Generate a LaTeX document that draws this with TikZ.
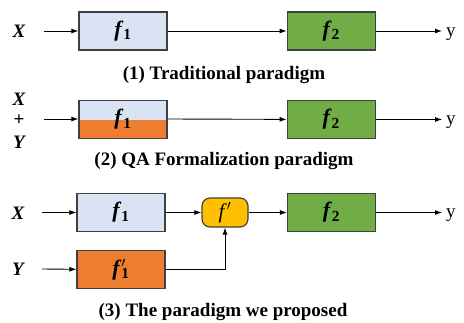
\documentclass[tikz,border=0pt]{standalone}
\usepackage{fontspec}
\setmainfont{Liberation Serif}
\usepackage{xcolor}
\usetikzlibrary{arrows.meta, positioning}

\definecolor{lavender}{RGB}{218,227,243}
\definecolor{leafgreen}{RGB}{112,173,71}
\definecolor{burntorange}{RGB}{237,125,49}
\definecolor{amber}{RGB}{255,192,0}
\definecolor{edgegray}{RGB}{64,64,64}

% f with a bold subscript, and f prime with one
\newcommand{\fsub}[1]{\textbf{\textit{f}}\textsubscript{\textbf{#1}}}
\newcommand{\fprimesub}[1]{\textbf{\textit{f}}\rlap{\textsuperscript{$\prime$}}\textsubscript{\textbf{#1}}}

\begin{document}
\begin{tikzpicture}[x=1pt, y=-1pt, >={Latex[length=7pt,width=5pt]}]
\tikzstyle{block} = [draw=edgegray, line width=1.2pt, rectangle, minimum height=38pt, minimum width=88pt, inner sep=0pt, font=\fontsize{22}{26}\selectfont]
\tikzstyle{mixed} = [block, fill=lavender, path picture={\fill[burntorange] (path picture bounding box.west) rectangle (path picture bounding box.south east);}]
\tikzstyle{merge} = [draw=edgegray, line width=1.2pt, fill=amber, rounded corners=8pt, minimum height=29pt, minimum width=46pt, inner sep=0pt, font=\fontsize{21}{24}\selectfont]
\tikzstyle{varname} = [anchor=base, inner sep=0pt, font=\fontsize{19}{22}\selectfont\bfseries\itshape]
\tikzstyle{outname} = [anchor=base west, inner sep=0pt, font=\fontsize{19}{22}\selectfont]
\tikzstyle{capt} = [anchor=base, inner sep=0pt, font=\fontsize{19}{22}\selectfont\bfseries]
\tikzstyle{input} = [coordinate]
\tikzstyle{output} = [coordinate]
\tikzstyle{wire} = [line width=0.9pt]

\useasboundingbox (0,0) rectangle (464,322);

% (1) traditional
\node [block, fill=lavender] (f1a) at (123,31) {\fsub{1}};
\node [block, fill=leafgreen, right=119pt of f1a] (f2a) {\fsub{2}};
\node [varname] (xa) at (19,37) {X};
\node [input] (ina) at (44,31) {};
\node [output] (outa) at (442,31) {};
\node [outname] (ya) at (446,36) {y};
\node [capt] (cap1) at (224,79) {(1) Traditional paradigm};

\draw [wire, ->] (ina) -- (f1a);
\draw [wire, ->] (f1a) -- (f2a);
\draw [wire, ->] (f2a) -- (outa);

% (2) QA formalization
\node [mixed] (f1b) at (123,119.5) {\fsub{1}};
\node [block, fill=leafgreen, right=119pt of f1b] (f2b) {\fsub{2}};
\node [varname] (xb) at (19,105) {X};
\node [varname, font=\fontsize{19}{22}\selectfont\bfseries] (plusb) at (19,125) {+};
\node [varname] (yb) at (19,148) {Y};
\node [input] (inb) at (44,119) {};
\node [output] (outb) at (442,119.5) {};
\node [outname] (yout2) at (446,124.5) {y};
\node [capt] (cap2) at (224,165) {(2) QA Formalization paradigm};

\draw [wire, ->] (inb) -- (f1b.west |- inb);
\draw [wire, ->] (f1b.east |- inb) -- (f2b);
\draw [wire, ->] (f2b) -- (outb);

% (3) proposed
\node [block, fill=lavender] (f1c) at (121,212.5) {\fsub{1}};
\node [block, fill=burntorange, below=18pt of f1c] (f1p) {\fprimesub{1}};
\node [merge] (fp) at (225,212.5) {\textit{f}\textsuperscript{$\prime$}};
\node [block, fill=leafgreen] (f2c) at (331.5,212.5) {\fsub{2}};
\node [varname] (xc) at (18,219) {X};
\node [varname] (yc) at (18,275) {Y};
\node [input] (inc) at (42,212.5) {};
\node [input] (ind) at (42,269) {};
\node [output] (outc) at (442,212.5) {};
\node [outname] (yout3) at (446,217.5) {y};
\node [capt] (cap3) at (223,316) {(3) The paradigm we proposed};

\draw [wire, ->] (inc) -- (f1c);
\draw [wire, ->] (ind) -- (f1p);
\draw [wire, ->] (f1c) -- (fp);
\draw [wire, ->] (f1p) -| (fp);
\draw [wire, ->] (fp) -- (f2c);
\draw [wire, ->] (f2c) -- (outc);

\end{tikzpicture}
\end{document}
